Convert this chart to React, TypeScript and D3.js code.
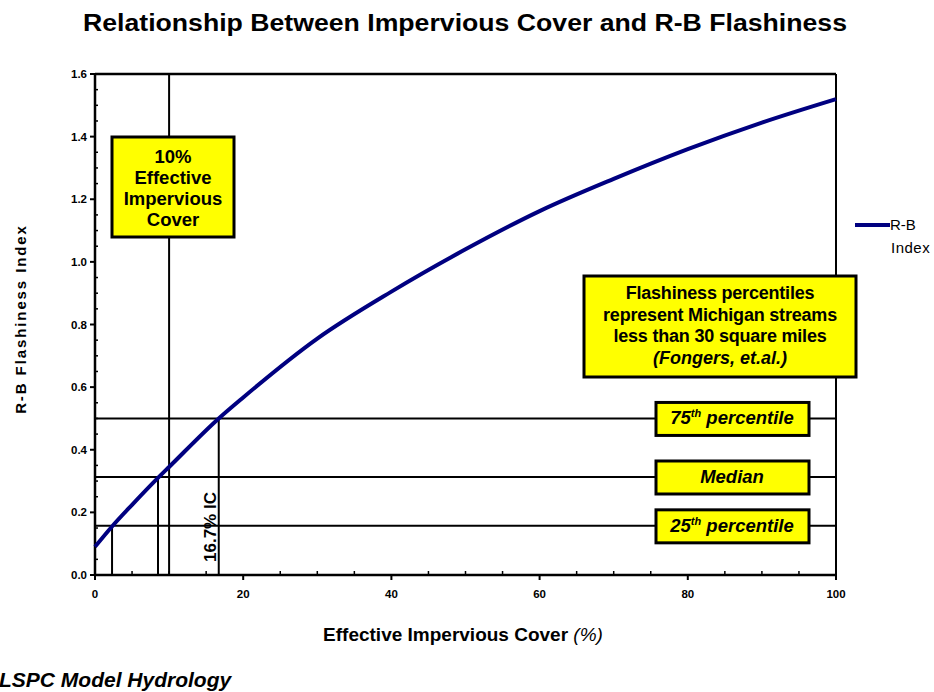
import React from 'react';
import * as d3 from 'd3';

// R-B flashiness curve
const coverPct = [0, 2.3, 5, 8.5, 10, 16.7, 20, 30, 40, 50, 60, 70, 80, 90, 100];
const rbIndex = [0.09, 0.155, 0.224, 0.31, 0.345, 0.5, 0.567, 0.755, 0.905, 1.04, 1.162, 1.265, 1.36, 1.445, 1.52];

const pctNames = ['75th', 'Median', '25th'];
const pctValues = [0.5, 0.313, 0.157];
const pctCover = [16.7, 8.5, 2.3];

const xTicks = [0, 20, 40, 60, 80, 100];
const yTicks = [0, 0.2, 0.4, 0.6, 0.8, 1.0, 1.2, 1.4, 1.6];

const W = 934, H = 692;
const sans = '"Liberation Sans", Arial, sans-serif';
const narrow = '"Liberation Sans Narrow", "Liberation Sans", Arial, sans-serif';

const x = d3.scaleLinear().domain([0, 100]).range([95, 836]);
const y = d3.scaleLinear().domain([0, 1.6]).range([575, 74]);

const line = d3.line<number>()
  .x((d, i) => x(coverPct[i]))
  .y(d => y(d))
  .curve(d3.curveMonotoneX);

function Box({ x0, y0, w, h }) {
  return <rect x={x0} y={y0} width={w} height={h} fill="#ffff00" stroke="#000" strokeWidth={3} />;
}

export default function App() {
  const minorX = d3.range(0, 101, 5).filter(v => v % 20 !== 0);
  const minorY = d3.range(0, 1.601, 0.05).filter((v, i) => i % 4 !== 0);

  return (
    <div style={{ position: 'absolute', left: 0, top: 0 }}>
      <svg width={W} height={H} style={{ display: 'block', background: '#fff' }}>
        <text x={465} y={31} textAnchor="middle" fontFamily={sans} fontWeight="bold" fontSize={23}
          textLength={764} lengthAdjust="spacingAndGlyphs">
          Relationship Between Impervious Cover and R-B Flashiness
        </text>

        {/* reference lines */}
        <line x1={x(10)} x2={x(10)} y1={y(0)} y2={y(1.6)} stroke="#000" strokeWidth={2} />
        {pctValues.map((v, i) => (
          <g key={pctNames[i]}>
            <line x1={x(0)} x2={x(100)} y1={y(v)} y2={y(v)} stroke="#000" strokeWidth={2} />
            <line x1={x(pctCover[i])} x2={x(pctCover[i])} y1={y(0)} y2={y(v)} stroke="#000" strokeWidth={2} />
          </g>
        ))}

        {/* frame */}
        <line x1={x(0)} x2={x(100)} y1={y(1.6)} y2={y(1.6)} stroke="#000" strokeWidth={2.5} />
        <line x1={x(100)} x2={x(100)} y1={y(0)} y2={y(1.6)} stroke="#000" strokeWidth={2} />
        <line x1={x(0)} x2={x(100)} y1={y(0)} y2={y(0)} stroke="#000" strokeWidth={2.5} />
        <line x1={x(0)} x2={x(0)} y1={y(0)} y2={y(1.6)} stroke="#000" strokeWidth={2.5} />

        {yTicks.map(t => (
          <g key={t}>
            <line x1={x(0) - 5} x2={x(0)} y1={y(t)} y2={y(t)} stroke="#000" strokeWidth={2} />
            <text x={x(0) - 8} y={y(t) + 4} textAnchor="end" fontFamily={narrow} fontWeight="bold" fontSize={11.5}>
              {t.toFixed(1)}
            </text>
          </g>
        ))}
        {minorY.map(t => (
          <line key={t} x1={x(0)} x2={x(0) + 3} y1={y(t)} y2={y(t)} stroke="#000" strokeWidth={1.5} />
        ))}
        {xTicks.map(t => (
          <g key={t}>
            <line x1={x(t)} x2={x(t)} y1={y(0)} y2={y(0) + 5} stroke="#000" strokeWidth={2} />
            <text x={x(t)} y={y(0) + 23} textAnchor="middle" fontFamily={narrow} fontWeight="bold" fontSize={11.5}>
              {t}
            </text>
          </g>
        ))}
        {minorX.map(t => (
          <line key={t} x1={x(t)} x2={x(t)} y1={y(0) - 4} y2={y(0)} stroke="#000" strokeWidth={1.5} />
        ))}

        <path d={line(rbIndex) || ''} fill="none" stroke="#000080" strokeWidth={4} />

        {/* 16.7% label */}
        <text transform={`translate(${x(16.7) - 3},${527}) rotate(-90)`} textAnchor="middle"
          fontFamily={sans} fontWeight="bold" fontSize={17}>16.7% IC</text>

        {/* 10% box */}
        <Box x0={112} y0={137} w={122} h={100} />
        {['10%', 'Effective', 'Impervious', 'Cover'].map((s, i) => (
          <text key={s} x={173} y={163 + i * 21} textAnchor="middle" fontFamily={sans} fontWeight="bold" fontSize={18.5}>{s}</text>
        ))}

        {/* note box */}
        <Box x0={584} y0={276} w={272} h={101} />
        {['Flashiness percentiles', 'represent Michigan streams', 'less than 30 square miles'].map((s, i) => (
          <text key={s} x={720} y={299 + i * 21.5} textAnchor="middle" fontFamily={sans} fontWeight="bold" fontSize={18}
            letterSpacing={-0.2}>{s}</text>
        ))}
        <text x={720} y={364} textAnchor="middle" fontFamily={sans} fontWeight="bold" fontStyle="italic" fontSize={18}>
          (Fongers, et.al.)
        </text>

        {/* percentile labels */}
        {pctValues.map((v, i) => (
          <g key={pctNames[i]}>
            <Box x0={656} y0={y(v) - 16} w={153} h={33} />
            <text x={732} y={y(v) + 6} textAnchor="middle" fontFamily={sans} fontWeight="bold" fontStyle="italic" fontSize={18.5}>
              {pctNames[i] === 'Median' ? 'Median' : (
                <>
                  {pctNames[i].slice(0, 2)}
                  <tspan fontSize={11} dy={-7}>{pctNames[i].slice(2)}</tspan>
                  <tspan dy={7}> percentile</tspan>
                </>
              )}
            </text>
          </g>
        ))}

        {/* legend */}
        <line x1={855} x2={890} y1={225} y2={225} stroke="#000080" strokeWidth={4} />
        <text x={890} y={230} fontFamily={narrow} fontSize={15}>R-B</text>
        <text x={891} y={253} fontFamily={narrow} fontSize={15} letterSpacing={0.5}>Index</text>

        {/* axis titles */}
        <text transform="translate(26,319) rotate(-90)" textAnchor="middle" fontFamily={sans} fontWeight="bold"
          fontSize={15} letterSpacing={1.9}>R-B Flashiness Index</text>
        <text x={463} y={641} textAnchor="middle" fontFamily={narrow} fontWeight="bold" fontSize={19}>
          Effective Impervious Cover <tspan fontStyle="italic" fontWeight="normal">(%)</tspan>
        </text>

        <text x={-1} y={687} fontFamily={sans} fontWeight="bold" fontStyle="italic" fontSize={21}>LSPC Model Hydrology</text>
      </svg>
    </div>
  );
}
